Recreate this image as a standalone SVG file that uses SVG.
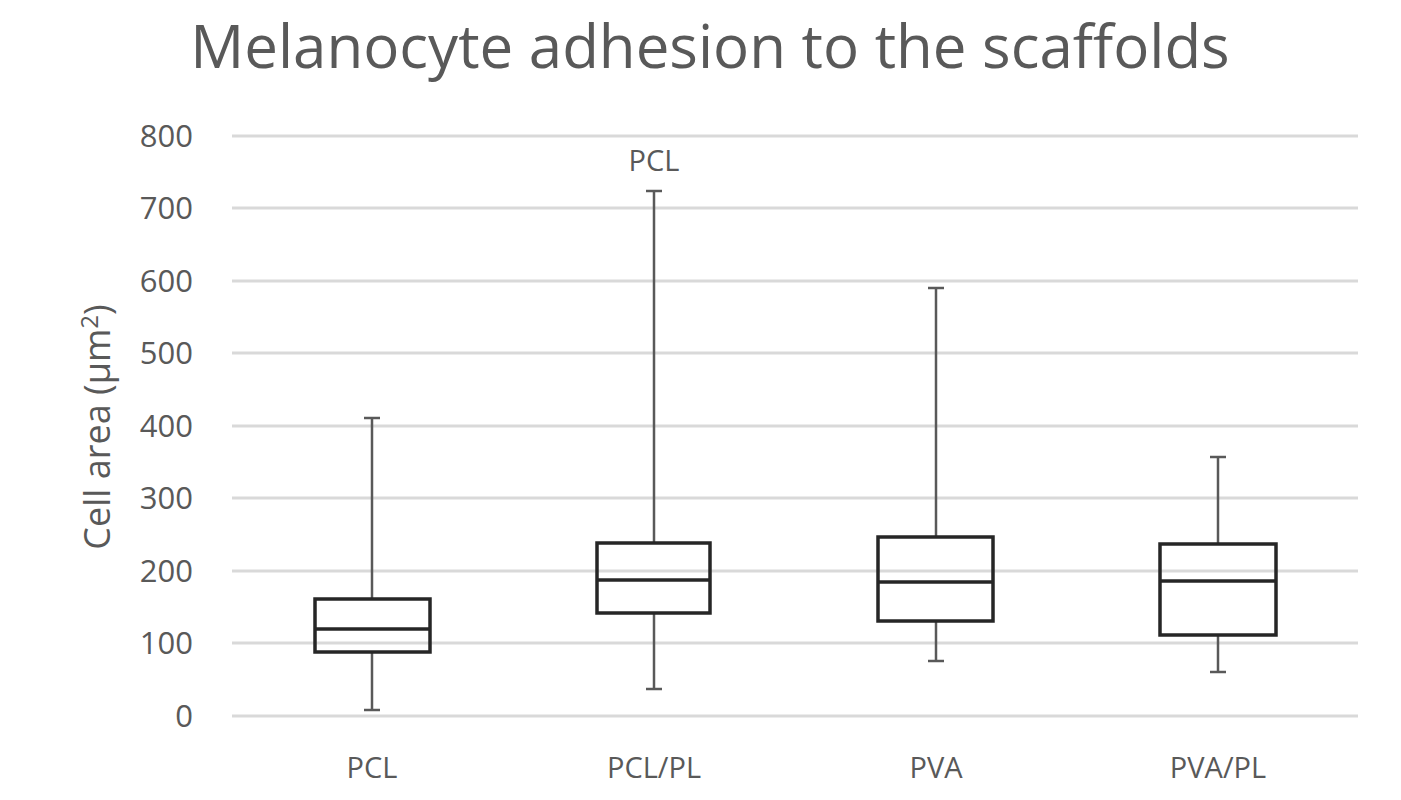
<svg xmlns="http://www.w3.org/2000/svg" width="1401" height="800" viewBox="0 0 1401 800">
<style>
text{font-family:"Open Sans","Liberation Sans",sans-serif;fill:#595959}
.grid{stroke:#d9d9d9;stroke-width:3}
.yt{font-size:31px;text-anchor:end}
.xt{font-size:29px;text-anchor:middle}
.box{fill:none;stroke:#262626;stroke-width:3.5}
.wh{stroke:#595959;stroke-width:2.5}
</style>
<rect width="1401" height="800" fill="#fff"/>
<text x="710" y="68" font-size="60" text-anchor="middle">Melanocyte adhesion to the scaffolds</text>
<g id="grid">
<line class="grid" x1="232" y1="136" x2="1358" y2="136"/>
<line class="grid" x1="232" y1="208" x2="1358" y2="208"/>
<line class="grid" x1="232" y1="281" x2="1358" y2="281"/>
<line class="grid" x1="232" y1="353" x2="1358" y2="353"/>
<line class="grid" x1="232" y1="426" x2="1358" y2="426"/>
<line class="grid" x1="232" y1="498" x2="1358" y2="498"/>
<line class="grid" x1="232" y1="571" x2="1358" y2="571"/>
<line class="grid" x1="232" y1="643" x2="1358" y2="643"/>
<line class="grid" x1="232" y1="716" x2="1358" y2="716"/>
</g>
<g id="yaxis">
<text class="yt" x="193" y="147">800</text>
<text class="yt" x="193" y="219">700</text>
<text class="yt" x="193" y="292">600</text>
<text class="yt" x="193" y="364">500</text>
<text class="yt" x="193" y="437">400</text>
<text class="yt" x="193" y="509">300</text>
<text class="yt" x="193" y="582">200</text>
<text class="yt" x="193" y="654">100</text>
<text class="yt" x="193" y="727">0</text>
<text x="0" y="0" font-size="36" text-anchor="middle" transform="translate(110,427) rotate(-90)">Cell area (µm<tspan font-size="24" dy="-12">2</tspan><tspan dy="12">)</tspan></text>
</g>
<g id="connectors">
<line class="wh" x1="372" y1="418" x2="372" y2="599"/><line class="wh" x1="364" y1="418" x2="380" y2="418"/>
<line class="wh" x1="372" y1="652" x2="372" y2="710"/><line class="wh" x1="364" y1="710" x2="380" y2="710"/>
<line class="wh" x1="654" y1="191" x2="654" y2="543"/><line class="wh" x1="646" y1="191" x2="662" y2="191"/>
<line class="wh" x1="654" y1="613" x2="654" y2="689"/><line class="wh" x1="646" y1="689" x2="662" y2="689"/>
<line class="wh" x1="936" y1="288" x2="936" y2="537"/><line class="wh" x1="928" y1="288" x2="944" y2="288"/>
<line class="wh" x1="936" y1="621" x2="936" y2="661"/><line class="wh" x1="928" y1="661" x2="944" y2="661"/>
<line class="wh" x1="1218" y1="457" x2="1218" y2="544"/><line class="wh" x1="1210" y1="457" x2="1226" y2="457"/>
<line class="wh" x1="1218" y1="635" x2="1218" y2="672"/><line class="wh" x1="1210" y1="672" x2="1226" y2="672"/>
</g>
<g id="box-pcl"><rect class="box" x="315" y="599" width="115" height="53"/><line class="box" x1="315" y1="629" x2="430" y2="629"/></g>
<g id="box-pclpl"><rect class="box" x="597" y="543" width="113" height="70"/><line class="box" x1="597" y1="580" x2="710" y2="580"/></g>
<g id="box-pva"><rect class="box" x="878" y="537" width="115" height="84"/><line class="box" x1="878" y1="582" x2="993" y2="582"/></g>
<g id="box-pvapl"><rect class="box" x="1160" y="544" width="116" height="91"/><line class="box" x1="1160" y1="581" x2="1276" y2="581"/></g>
<g id="xaxis">
<text class="xt" x="372" y="778">PCL</text>
<text class="xt" x="654" y="778">PCL/PL</text>
<text class="xt" x="936" y="778">PVA</text>
<text class="xt" x="1218" y="778">PVA/PL</text>
<text class="xt" x="654" y="171">PCL</text>
</g>
</svg>
